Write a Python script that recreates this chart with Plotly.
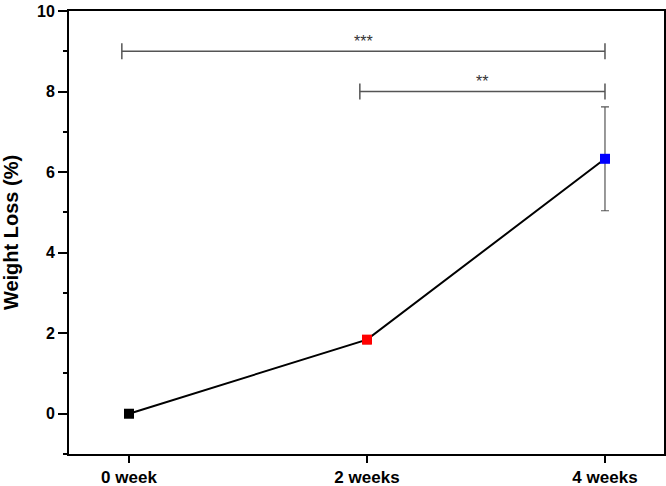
import plotly.graph_objects as go

categories = ["0 week", "2 weeks", "4 weeks"]
weight_loss = [0.0, 1.84, 6.33]
errors = [0.0, 0.1, 1.29]
marker_colors = ["#000000", "#ff0000", "#0000ff"]

# significance comparisons: (from index, to index, bracket level, label)
sig_from = [0, 1]
sig_to = [2, 2]
sig_level = [9, 8]
sig_label = ["***", "**"]

fig = go.Figure()
fig.add_trace(go.Scatter(
    x=categories, y=weight_loss,
    mode="lines+markers",
    line=dict(color="black", width=2),
    marker=dict(symbol="square", size=10, color=marker_colors),
    error_y=dict(type="data", array=errors, color="#555555", thickness=1.2, width=4),
    showlegend=False,
))

off = 0.03
cap = 0.2
for a, b, lvl, lab in zip(sig_from, sig_to, sig_level, sig_label):
    x0 = a - off
    x1 = b
    fig.add_shape(type="line", xref="x", yref="y", x0=x0, x1=x1, y0=lvl, y1=lvl,
                  line=dict(color="#555555", width=1.5))
    for xx in (x0, x1):
        fig.add_shape(type="line", xref="x", yref="y", x0=xx, x1=xx, y0=lvl - cap, y1=lvl + cap,
                      line=dict(color="#555555", width=1.5))
    fig.add_annotation(x=(x0 + x1) / 2, y=lvl, text=lab, showarrow=False,
                       yshift=10, font=dict(size=16, color="#333333", family="Liberation Sans"))

fig.update_layout(
    width=666, height=486,
    margin=dict(l=69, r=2, t=11, b=32),
    plot_bgcolor="white", paper_bgcolor="white",
    font=dict(family="Liberation Sans, Arial", color="black"),
)
fig.update_xaxes(
    type="category", range=[-0.252, 2.248], automargin=False,
    showline=True, linecolor="black", linewidth=2, mirror=True,
    ticks="outside", ticklen=7, tickwidth=1.5, tickcolor="black",
    ticklabelstandoff=0,
    tickfont=dict(size=17, family="Liberation Sans", color="black", weight="bold"),
    showgrid=False, zeroline=False,
)
fig.update_yaxes(
    range=[-1, 10], tickvals=[0, 2, 4, 6, 8, 10], automargin=False,
    showline=True, linecolor="black", linewidth=2, mirror=True,
    ticks="outside", ticklen=9, tickwidth=1.5, tickcolor="black",
    minor=dict(tickvals=[-1, 1, 3, 5, 7, 9], ticks="outside", ticklen=4, tickwidth=1.5, tickcolor="black"),
    tickfont=dict(size=16, family="Liberation Sans", color="black", weight="bold"),
    title=dict(text="Weight Loss (%)", font=dict(size=20, family="Liberation Sans", color="black", weight="bold"), standoff=14),
    showgrid=False, zeroline=False,
)

fig.write_html("out.html")
